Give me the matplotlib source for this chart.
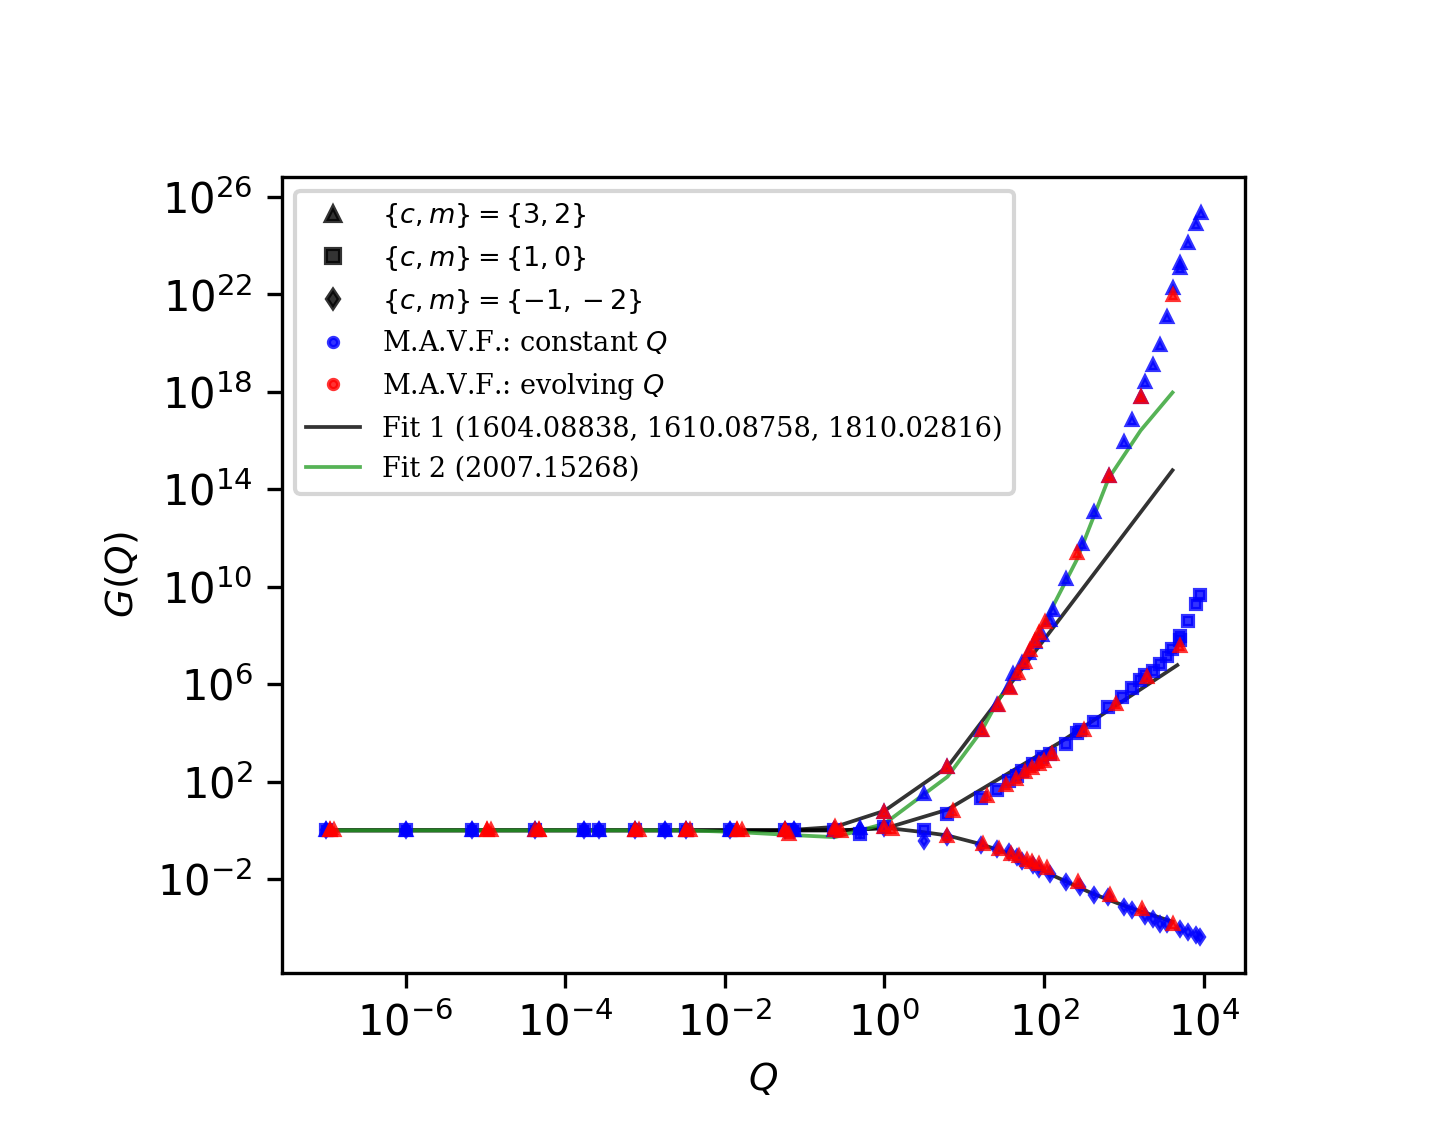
import numpy as np
import matplotlib
matplotlib.use("Agg")
import matplotlib.pyplot as plt
from matplotlib.lines import Line2D

# all values below are log10 of Q and G(Q)
flat_q_blue = [-7.00, -6.00, -5.17, -4.38, -3.76, -3.57, -3.12, -2.75, -2.49, -1.94, -1.24, -1.13, -0.63, -0.31]

# {c,m} = {3,2}
q_tri_blue = flat_q_blue + [0.00, 0.49, 0.78, 1.21, 1.41, 1.56, 1.61, 1.73, 1.81, 1.89, 1.97, 2.07, 2.11,
                            2.28, 2.47, 2.63, 2.81, 3.00, 3.10, 3.21, 3.27, 3.36, 3.45, 3.54, 3.62,
                            3.70, 3.71, 3.81, 3.91, 3.97]
g_tri_blue = [0.0] * 13 + [0.10] + [0.76, 1.50, 2.60, 4.11, 5.13, 5.87, 6.40, 6.88, 7.29, 7.72, 8.03, 8.62, 9.03,
                                    10.32, 11.75, 13.06, 14.53, 15.93, 16.83, 17.77, 18.42, 19.12, 19.94, 21.08, 22.27,
                                    23.08, 23.29, 24.11, 24.88, 25.33]
q_tri_red = [-6.95, -4.98, -4.33, -3.12, -2.49, -1.85, -1.24, -0.62, 0.00, 0.79, 1.22, 1.42, 1.57, 1.67,
             1.76, 1.83, 1.89, 1.94, 2.01, 2.41, 2.81, 3.21, 3.61]
g_tri_red = [0.0, 0.0, 0.0, 0.0, 0.0, 0.0, 0.0, 0.14, 0.76, 2.60, 4.13, 5.13, 5.86, 6.44,
             6.92, 7.40, 7.76, 8.10, 8.54, 11.39, 14.53, 17.77, 21.97]

# {c,m} = {1,0}
q_sq_blue = flat_q_blue + [0.00, 0.49, 0.78, 1.21, 1.41, 1.56, 1.66, 1.73, 1.86, 1.98, 2.07, 2.27, 2.41, 2.45,
                           2.63, 2.80, 2.98, 3.10, 3.20, 3.26, 3.36, 3.45, 3.54, 3.60, 3.70, 3.71, 3.81, 3.90, 3.96]
g_sq_blue = [0.0] * 13 + [-0.14] + [0.14, 0.0, 0.68, 1.32, 1.67, 2.01, 2.22, 2.42, 2.72, 2.99, 3.13, 3.56, 4.01, 4.12,
                                    4.45, 5.08, 5.49, 5.83, 6.19, 6.36, 6.53, 6.84, 7.15, 7.45, 7.80, 7.99, 8.58, 9.29, 9.67]
q_sq_red = [-6.90, -4.93, -4.33, -3.07, -2.44, -1.79, -1.20, -0.54, 0.10, 0.86, 1.29, 1.52, 1.65, 1.76,
            1.85, 1.94, 2.00, 2.10, 2.50, 2.90, 3.29, 3.71]
g_sq_red = [0.0, 0.0, 0.0, 0.0, 0.0, 0.0, -0.14, -0.02, 0.06, 0.80, 1.42, 1.86, 2.11, 2.38,
            2.54, 2.72, 2.85, 3.13, 4.12, 5.17, 6.30, 7.56]

# {c,m} = {-1,-2}
q_dia_blue = flat_q_blue + [0.00, 0.49, 0.78, 1.21, 1.41, 1.56, 1.66, 1.73, 1.86, 1.94, 2.07, 2.27, 2.45, 2.63,
                            2.80, 3.00, 3.10, 3.27, 3.36, 3.45, 3.54, 3.71, 3.81, 3.90, 3.96]
g_dia_blue = [0.0] * 14 + [0.10, -0.42, -0.28, -0.59, -0.78, -0.87, -1.10, -1.27, -1.44, -1.57, -1.78, -2.12, -2.32, -2.67,
                           -2.73, -3.14, -3.28, -3.51, -3.65, -3.86, -3.86, -4.03, -4.16, -4.30, -4.37]
q_dia_red = [-6.95, -4.98, -4.38, -3.12, -2.49, -1.85, -1.24, -0.62, 0.00, 0.79, 1.23, 1.44, 1.58, 1.69,
             1.79, 1.85, 1.94, 2.04, 2.42, 2.83, 3.23, 3.62]
g_dia_red = [0.0, 0.0, 0.0, 0.0, 0.0, 0.0, 0.0, 0.0, 0.14, -0.22, -0.55, -0.76, -0.96, -1.05,
             -1.21, -1.30, -1.37, -1.55, -2.12, -2.67, -3.21, -3.86]

# Fit 1 curves
fit1_q_32 = [-7.0, -1.24, -0.62, 0.00, 0.79, 3.61]
fit1_g_32 = [0.0, 0.0, 0.14, 0.80, 2.60, 14.78]
fit1_q_10 = [-7.0, -0.54, 0.03, 0.79, 2.20, 3.67]
fit1_g_10 = [0.0, 0.0, 0.10, 0.85, 3.61, 6.78]
fit1_q_m12 = [-7.0, -0.54, 0.03, 0.48, 0.79, 1.19, 1.57, 2.11, 2.61, 3.04, 3.61]
fit1_g_m12 = [0.0, 0.0, 0.10, -0.07, -0.21, -0.55, -0.96, -1.85, -2.60, -3.14, -3.75]

# Fit 2 curve
fit2_q_32 = [-7.0, -2.49, -1.85, -1.24, -0.62, 0.00, 0.79, 1.22, 1.42, 1.57, 1.67, 1.76, 1.83, 1.89,
             1.94, 2.01, 2.41, 2.81, 3.21, 3.61]
fit2_g_32 = [0.0, 0.0, -0.07, -0.18, -0.28, 0.27, 2.20, 4.10, 5.30, 6.06, 6.65, 7.15, 7.55, 7.90,
             8.20, 8.55, 11.10, 14.45, 16.41, 17.97]

def p10(a):
    return np.power(10.0, np.asarray(a))

fig = plt.figure(figsize=(4.8, 3.8), dpi=300)
ax = fig.add_axes([0.1958, 0.1465, 0.6688, 0.6982])

# fits
for q, g in [(fit1_q_32, fit1_g_32), (fit1_q_10, fit1_g_10), (fit1_q_m12, fit1_g_m12)]:
    ax.plot(p10(q), p10(g), color='k', alpha=0.8, lw=0.9, zorder=1)
ax.plot(p10(fit2_q_32), p10(fit2_g_32), color='C2', alpha=0.8, lw=0.9, zorder=1)

ms = 2.2
for qb, gb, mk, qr, gr in [(q_tri_blue, g_tri_blue, '^', q_tri_red, g_tri_red),
                           (q_sq_blue, g_sq_blue, 's', q_sq_red, g_sq_red),
                           (q_dia_blue, g_dia_blue, 'd', q_dia_red, g_dia_red)]:
    ax.plot(p10(qb), p10(gb), ls='none', marker=mk, color='b', alpha=0.8, ms=ms, zorder=2)
    ax.plot(p10(qr), p10(gr), ls='none', marker='^', color='r', alpha=0.8, ms=ms, zorder=3)

ax.set_xscale('log')
ax.set_yscale('log')
ax.minorticks_off()
ax.set_xlabel('$Q$', fontsize=9)
ax.set_ylabel('$G(Q)$', fontsize=9)

handles = [
    Line2D([], [], ls='none', marker='^', color='k', alpha=0.8, ms=3.2),
    Line2D([], [], ls='none', marker='s', color='k', alpha=0.8, ms=3.2),
    Line2D([], [], ls='none', marker='d', color='k', alpha=0.8, ms=3.2),
    Line2D([], [], ls='none', marker='o', color='b', alpha=0.8, ms=2.2),
    Line2D([], [], ls='none', marker='o', color='r', alpha=0.8, ms=2.2),
    Line2D([], [], color='k', alpha=0.8, lw=0.9),
    Line2D([], [], color='C2', alpha=0.8, lw=0.9),
]
labels = [r'$\{c,m\} = \{3,2\}$', r'$\{c,m\} = \{1,0\}$', r'$\{c,m\} = \{-1,-2\}$',
          'M.A.V.F.: constant $Q$', 'M.A.V.F.: evolving $Q$',
          'Fit 1 (1604.08838, 1610.08758, 1810.02816)', 'Fit 2 (2007.15268)']
ax.legend(handles, labels, loc='upper left', prop={'family': 'serif', 'size': 6.5})

fig.savefig('out.png', dpi=300)
